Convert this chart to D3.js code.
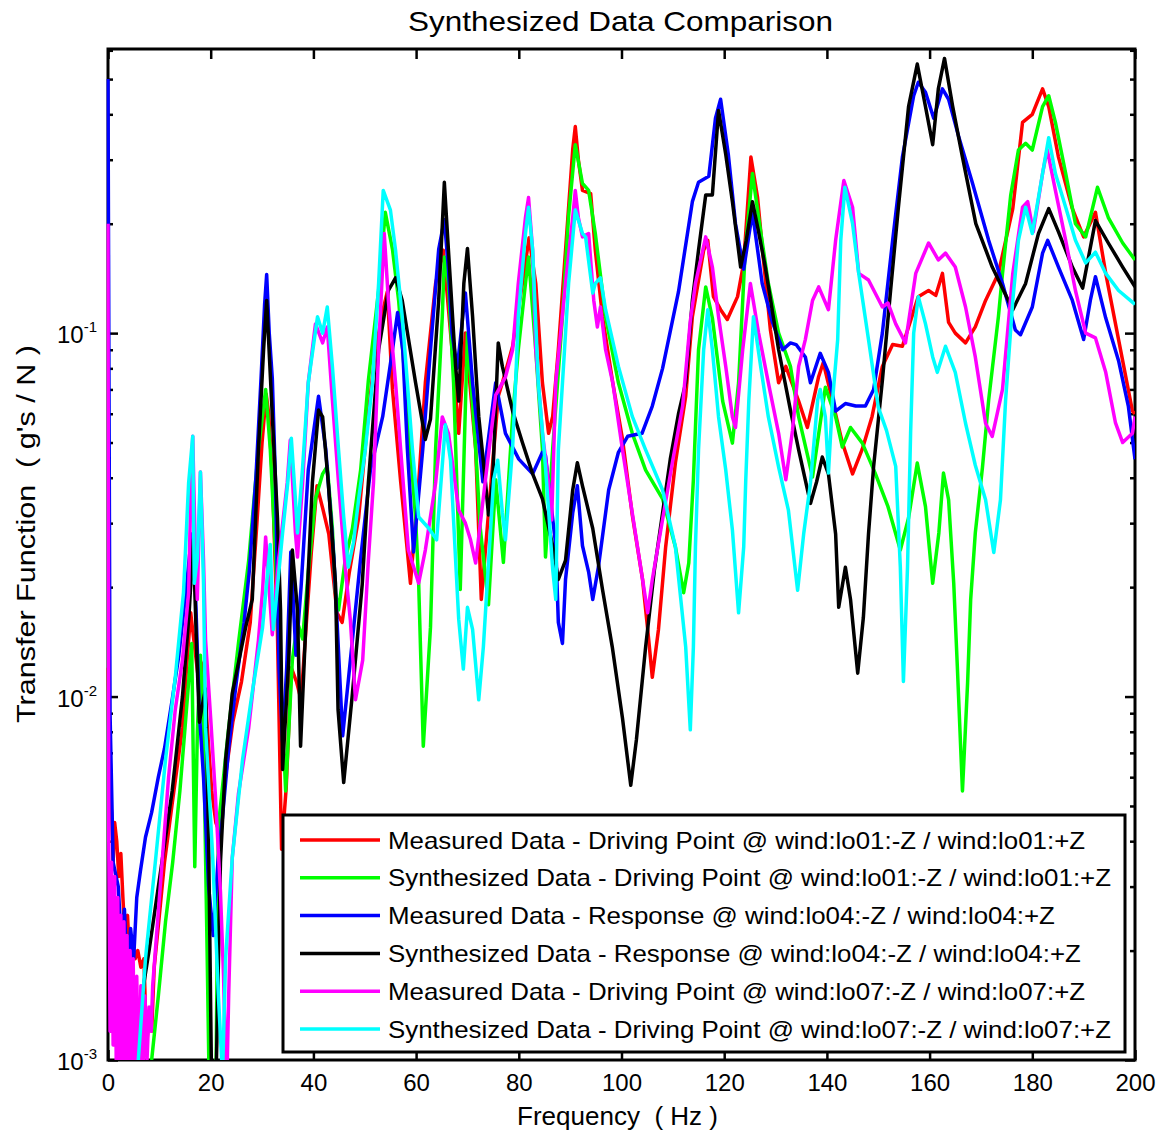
<!DOCTYPE html>
<html>
<head>
<meta charset="utf-8">
<style>
  body { margin: 0; background: #fff; }
  text { font-family: "Liberation Sans", Arial, sans-serif; fill: #000; }
</style>
</head>
<body>
<svg width="1163" height="1134"></svg>
<script src="https://d3js.org/d3.v7.min.js"></script>
<script>

// values: [frequency (Hz), transfer function (g's/N)]
var measuredLo01 = [[0,0.012],[0.3,0.0055],[0.7,0.0048],[1,0.0035],[1.3,0.0045],[1.7,0.004],[2.1,0.0032],[2.5,0.0037],[2.9,0.0028],[3.3,0.0022],[3.8,0.0025],[4.3,0.0018],[4.8,0.0021],[5.3,0.0019],[5.8,0.002],[6.4,0.0018],[7,0.0019],[7.5,0.0011],[8,0.0013],[8.5,0.0012],[9,0.0018],[10,0.0025],[11,0.0035],[12.6,0.0052],[14.5,0.0082],[15.3,0.012],[16.1,0.017],[16.8,0.014],[17.5,0.0115],[18,0.0125],[18.6,0.012],[19.4,0.008],[20.2,0.0055],[21,0.0045],[21.8,0.0042],[22.5,0.0055],[24.3,0.0085],[26,0.011],[27.7,0.016],[29,0.03],[30,0.05],[30.8,0.068],[31.3,0.06],[32,0.04],[33,0.015],[33.8,0.0038],[34.7,0.0056],[35.7,0.012],[36.7,0.011],[37.6,0.0098],[38.5,0.015],[39.6,0.025],[40.7,0.038],[41.8,0.033],[43,0.028],[44.6,0.017],[45.6,0.016],[47,0.022],[48.8,0.031],[50.7,0.06],[52.1,0.09],[53.5,0.115],[54.4,0.13],[55.4,0.07],[57,0.039],[58.9,0.0205],[60.5,0.0387],[61.8,0.073],[63.8,0.137],[65.3,0.169],[67,0.09],[68.3,0.053],[69.6,0.1],[71.6,0.048],[72.7,0.0185],[74.1,0.032],[76,0.067],[76.8,0.073],[78.8,0.092],[80.7,0.137],[82,0.183],[83.3,0.137],[84.6,0.073],[85.8,0.053],[86.6,0.059],[87.7,0.09],[89.1,0.169],[90.5,0.32],[91,0.37],[91.6,0.3],[92.4,0.247],[94,0.242],[94.9,0.169],[96.3,0.111],[98.3,0.073],[100.2,0.051],[102.1,0.0316],[104.1,0.021],[105.1,0.0153],[106,0.0113],[107.2,0.0153],[108.6,0.0258],[110.5,0.044],[112.5,0.067],[113.8,0.111],[116,0.169],[116.8,0.18],[117.9,0.126],[119.3,0.116],[120.6,0.109],[122.6,0.126],[123.8,0.156],[125.2,0.305],[126.5,0.236],[127.7,0.156],[129,0.102],[130.6,0.073],[132,0.081],[134.5,0.065],[136.2,0.055],[138.4,0.076],[139.3,0.083],[141.1,0.065],[143,0.05],[145,0.041],[146.9,0.048],[148.8,0.059],[150.8,0.081],[152.8,0.093],[154.7,0.092],[157.8,0.126],[159.8,0.131],[161.2,0.127],[162.5,0.146],[163.7,0.107],[165,0.1],[167,0.094],[168.9,0.104],[170.9,0.123],[173.4,0.146],[176.2,0.22],[178.1,0.38],[180,0.4],[182,0.47],[183.2,0.42],[185.1,0.305],[187.8,0.22],[190,0.184],[192.3,0.215],[194.3,0.146],[196.8,0.096],[199.5,0.061],[200,0.06]];

var synthLo01 = [[7.5,0.0008],[8.5,0.001],[9.8,0.0015],[11.2,0.0024],[12.6,0.0035],[14,0.0055],[15,0.0082],[16.3,0.014],[16.9,0.0034],[17.4,0.008],[18,0.013],[18.6,0.008],[19.3,0.002],[19.8,0.0007],[21,0.0008],[21.5,0.0044],[23.5,0.0082],[25.4,0.014],[27.4,0.0237],[29.3,0.048],[30.7,0.07],[31.6,0.048],[32.6,0.025],[33.6,0.0112],[34.6,0.0055],[35.9,0.0126],[36.9,0.016],[37.9,0.0144],[39,0.022],[40.4,0.035],[41.8,0.041],[42.7,0.043],[43.7,0.029],[44.3,0.0193],[44.9,0.0173],[46.2,0.0238],[47.6,0.029],[49.2,0.042],[50.7,0.074],[52.7,0.131],[54,0.215],[55.4,0.17],[56.6,0.123],[57.9,0.073],[59.9,0.031],[60.5,0.0205],[61.4,0.0073],[62.8,0.0155],[63.8,0.048],[65.1,0.111],[65.5,0.162],[66.3,0.137],[67.3,0.073],[68.6,0.0197],[70,0.1],[71.6,0.048],[72.5,0.029],[74.1,0.0179],[75.5,0.0395],[77,0.0234],[78.8,0.0588],[79.9,0.09],[81.3,0.137],[81.9,0.162],[83.3,0.09],[84.6,0.048],[85.2,0.0242],[86.6,0.048],[88.5,0.111],[89.7,0.21],[91,0.33],[92.4,0.258],[93.6,0.247],[94.9,0.188],[96.9,0.111],[99.4,0.073],[102.1,0.053],[104.7,0.042],[108,0.035],[110.5,0.0258],[112.1,0.0193],[113.1,0.0233],[114,0.0395],[115,0.09],[116.4,0.134],[117.7,0.11],[119.7,0.065],[121.6,0.0498],[122.8,0.073],[124.1,0.169],[125.5,0.275],[126.7,0.208],[128.6,0.137],[130.6,0.1],[132.9,0.081],[134.5,0.0588],[137.2,0.0402],[139.7,0.071],[141.7,0.0588],[143,0.0486],[144.6,0.055],[146.9,0.0498],[149.4,0.0412],[151.9,0.0333],[154.3,0.0253],[155.9,0.031],[157.6,0.0439],[159.2,0.0333],[160.6,0.0205],[161.8,0.0282],[162.7,0.0412],[163.7,0.0348],[164.7,0.0205],[165.4,0.0121],[166.4,0.0055],[167.4,0.0109],[168,0.0185],[168.9,0.0282],[170.3,0.0428],[171.5,0.0654],[173.4,0.111],[174.2,0.146],[175.8,0.24],[177.3,0.319],[178.7,0.333],[180,0.319],[182,0.42],[183.2,0.45],[184.5,0.38],[186.5,0.275],[188.4,0.2],[190.4,0.184],[192.7,0.252],[194.8,0.208],[197.6,0.177],[200,0.159]];

var measuredLo04 = [[0,0.5],[0.4,0.009],[1,0.0035],[2,0.003],[2.6,0.0021],[3.2,0.0026],[3.8,0.0016],[4.4,0.0023],[5,0.0019],[5.6,0.0028],[6.3,0.0033],[7.3,0.0041],[8.5,0.0048],[9.8,0.006],[11,0.0072],[12.5,0.0098],[13.8,0.013],[15.1,0.019],[16.3,0.028],[17,0.02],[17.8,0.009],[18.6,0.006],[19.6,0.003],[20.5,0.0022],[21.4,0.0035],[22.2,0.0045],[23.5,0.0072],[25,0.011],[26.5,0.016],[27.5,0.022],[28.8,0.04],[29.8,0.075],[30.5,0.12],[30.9,0.145],[31.4,0.1],[32,0.075],[32.6,0.04],[33.3,0.012],[34,0.0075],[34.8,0.012],[35.6,0.025],[36.6,0.013],[37.6,0.02],[39,0.042],[41,0.067],[42.4,0.048],[44,0.024],[45.7,0.0078],[47.2,0.0126],[49.2,0.024],[51.1,0.042],[53.5,0.059],[55.4,0.09],[56.4,0.114],[57.4,0.09],[58.3,0.048],[59.3,0.028],[59.5,0.025],[61.3,0.048],[62.8,0.09],[64.4,0.17],[65.5,0.205],[66.3,0.15],[67,0.1],[68,0.08],[69.6,0.129],[71,0.073],[73,0.039],[75.5,0.073],[77.4,0.053],[80,0.045],[82.7,0.041],[84.6,0.047],[85.2,0.046],[87.2,0.026],[87.7,0.016],[88.5,0.014],[89.1,0.021],[90.5,0.032],[91.4,0.038],[92.4,0.026],[93.6,0.022],[94.4,0.0185],[95.5,0.0227],[97.5,0.037],[99.4,0.047],[101.2,0.052],[104,0.053],[106,0.063],[108,0.08],[111.1,0.13],[113.8,0.23],[115,0.26],[117,0.27],[118.3,0.39],[119.3,0.44],[120.8,0.31],[122.2,0.2],[123.8,0.15],[125.5,0.215],[127.4,0.137],[129.4,0.107],[131.4,0.09],[132.9,0.094],[134,0.093],[135.8,0.086],[136.8,0.073],[138.7,0.088],[140.3,0.078],[141.7,0.061],[143.6,0.064],[145.6,0.063],[147.5,0.063],[149.1,0.07],[150.8,0.1],[152.8,0.18],[154.7,0.305],[156.9,0.45],[157.8,0.49],[159.2,0.46],[160.8,0.39],[162.5,0.47],[163.7,0.44],[165.6,0.35],[168.3,0.26],[171.5,0.18],[174.2,0.137],[176.7,0.102],[177.7,0.099],[180,0.118],[182,0.166],[183,0.18],[185.1,0.152],[187.8,0.123],[190,0.096],[191.3,0.123],[192.3,0.143],[194.3,0.11],[196.8,0.084],[198.7,0.063],[200,0.045]];

var synthLo04 = [[3,0.0008],[5.5,0.0012],[8,0.002],[10.5,0.0035],[12.5,0.0055],[14.5,0.01],[15.8,0.017],[16.6,0.027],[17.3,0.013],[17.8,0.0085],[18.4,0.0095],[19,0.0105],[19.6,0.004],[20.2,0.0008],[20.9,0.0007],[21.9,0.0035],[22.9,0.0067],[24.2,0.0102],[26.8,0.0155],[28.1,0.0185],[29.3,0.048],[30.3,0.09],[30.9,0.123],[32,0.059],[33,0.031],[33.6,0.0173],[34,0.0063],[35.2,0.0126],[35.9,0.0253],[36.9,0.0173],[37.5,0.0073],[38.5,0.0155],[39.8,0.0387],[41,0.0614],[41.8,0.0588],[42.9,0.0387],[44.3,0.0205],[44.8,0.0092],[45.9,0.0058],[47.6,0.0102],[49.5,0.0203],[50.7,0.0387],[52.7,0.09],[54.6,0.131],[56,0.142],[57.3,0.123],[59.9,0.073],[61.8,0.051],[62.8,0.058],[64.4,0.123],[65.5,0.26],[66.3,0.169],[67.7,0.081],[68.3,0.065],[69.3,0.137],[70,0.171],[71,0.111],[72.2,0.059],[73.5,0.039],[74.1,0.0316],[74.9,0.039],[76,0.094],[76.8,0.081],[78.8,0.061],[80.7,0.05],[82.7,0.041],[84.6,0.035],[86.6,0.026],[87.7,0.021],[89.1,0.0237],[90.5,0.037],[91.4,0.044],[92.4,0.038],[94.4,0.029],[96.3,0.0197],[98.2,0.0137],[100.2,0.0087],[101.8,0.0057],[102.9,0.0076],[104.7,0.0137],[106.4,0.0223],[108,0.032],[109.5,0.045],[111.1,0.06],[112.5,0.073],[113.8,0.123],[115,0.169],[116.4,0.24],[117.7,0.24],[118.9,0.41],[120.3,0.31],[121.6,0.23],[123.2,0.152],[124.3,0.18],[125.5,0.23],[126.7,0.19],[128,0.152],[130.6,0.09],[132.9,0.0614],[134.5,0.0477],[136.8,0.034],[138,0.039],[139.1,0.0456],[140.3,0.041],[141.7,0.028],[142.3,0.0176],[143.6,0.0227],[144.6,0.0185],[146,0.0116],[147.1,0.0165],[148.1,0.028],[149.1,0.043],[150.8,0.074],[152.4,0.131],[153.9,0.22],[155.9,0.42],[157.6,0.55],[159.2,0.42],[160.6,0.33],[161.7,0.47],[162.9,0.57],[164.5,0.42],[166.4,0.305],[169,0.2],[172.2,0.152],[176.2,0.116],[178.7,0.137],[181.2,0.188],[183.2,0.22],[185.1,0.19],[187.8,0.152],[189.8,0.133],[192.3,0.204],[194.8,0.177],[197.6,0.152],[200,0.134]];

var measuredLo07 = [[0,0.2],[0.15,0.004],[0.4,0.0012],[0.7,0.0035],[1,0.0011],[1.3,0.0032],[1.6,0.001],[1.9,0.0028],[2.2,0.0009],[2.5,0.0025],[2.8,0.001],[3.1,0.0024],[3.4,0.0009],[3.7,0.0022],[4,0.0009],[4.3,0.002],[4.6,0.0008],[4.9,0.0019],[5.2,0.0009],[5.6,0.0017],[6,0.0008],[6.4,0.0016],[6.8,0.0009],[7.2,0.0015],[7.6,0.001],[8,0.0014],[8.4,0.0012],[8.7,0.0016],[10.6,0.0036],[11.8,0.006],[13.1,0.0092],[14.5,0.0126],[15.7,0.0193],[16.1,0.035],[16.5,0.052],[17,0.0253],[17.4,0.0185],[18,0.0415],[18.6,0.0237],[19,0.0143],[20,0.0087],[20.9,0.0054],[21.9,0.0029],[22.5,0.0017],[22.9,0.001],[23.1,0.0008],[23.5,0.0015],[24.2,0.0036],[25.4,0.0054],[27.4,0.0082],[29.3,0.0143],[30.1,0.0196],[30.7,0.0275],[31.3,0.0205],[32,0.0148],[33.2,0.0237],[34.9,0.0387],[35.5,0.0508],[36.5,0.0282],[36.9,0.0242],[37.9,0.0387],[39,0.073],[40.4,0.106],[41.8,0.094],[42.7,0.104],[43.7,0.0654],[44.9,0.0387],[46.2,0.0227],[47.2,0.0162],[48.2,0.0098],[49.6,0.0126],[50.7,0.0237],[51.7,0.0387],[52.7,0.09],[53.8,0.188],[54.6,0.123],[56,0.073],[57,0.0477],[58.5,0.0253],[60.5,0.0205],[61.8,0.0253],[63.8,0.0387],[65.1,0.0588],[66.3,0.053],[68.3,0.0326],[69.6,0.03],[70.6,0.027],[71.6,0.0233],[73.5,0.0395],[75.5,0.0675],[77.4,0.0757],[78.8,0.09],[79.9,0.137],[81.3,0.208],[81.9,0.236],[82.7,0.169],[83.3,0.09],[84.6,0.053],[85.8,0.0387],[86.4,0.0306],[87.2,0.073],[89.1,0.137],[90.5,0.208],[91,0.247],[91.6,0.208],[92.4,0.184],[93.6,0.188],[94.6,0.123],[95.3,0.104],[95.9,0.118],[96.9,0.09],[98.3,0.073],[100.2,0.0477],[102.1,0.032],[104.1,0.021],[105.1,0.017],[106,0.021],[108,0.0307],[109.9,0.044],[111.9,0.063],[113.4,0.108],[114.4,0.137],[116.4,0.184],[117.7,0.152],[118.9,0.111],[120.3,0.081],[121.6,0.0588],[122.2,0.055],[123.6,0.09],[125.1,0.137],[126.7,0.1],[128.6,0.073],[130.6,0.053],[132,0.0395],[133.3,0.054],[134.5,0.081],[135.8,0.096],[137.2,0.123],[138.4,0.134],[140.3,0.116],[141.7,0.18],[143.3,0.263],[145,0.222],[146.2,0.146],[148.1,0.14],[150.8,0.118],[151.9,0.121],[153.4,0.106],[155.3,0.094],[157.3,0.146],[159.8,0.177],[161.7,0.159],[163.1,0.166],[165,0.152],[167,0.118],[168.9,0.086],[170.9,0.0565],[172.2,0.052],[174.2,0.07],[176.2,0.146],[178.1,0.222],[179.1,0.23],[180.2,0.19],[182,0.275],[182.9,0.32],[184.5,0.247],[186.5,0.18],[188.4,0.131],[190.4,0.1],[192.3,0.097],[194.3,0.078],[196.2,0.0566],[197.6,0.05],[199.5,0.053],[200,0.059]];

var synthLo07 = [[5.5,0.0008],[5.9,0.001],[7.3,0.0019],[9.3,0.0036],[11.2,0.0067],[13.1,0.0113],[14.7,0.0193],[15.7,0.0387],[16.5,0.052],[16.8,0.0205],[17.4,0.024],[18,0.0415],[18.6,0.0205],[19,0.0082],[20.4,0.0036],[21.5,0.0015],[22.3,0.0009],[22.9,0.0019],[24.2,0.0036],[26.2,0.0067],[28.1,0.0103],[30.1,0.0155],[31.3,0.0237],[31.6,0.0262],[32.2,0.0153],[34,0.0282],[35,0.0387],[35.7,0.0514],[36.5,0.0348],[36.9,0.0282],[37.9,0.0428],[39,0.073],[40.8,0.111],[41.8,0.1],[42.7,0.118],[43.7,0.081],[44.9,0.0477],[45.9,0.0312],[46.8,0.0227],[47.8,0.0265],[48.8,0.0348],[50.1,0.0477],[51.5,0.073],[52.7,0.137],[53.6,0.247],[55,0.218],[56,0.169],[57.3,0.111],[58.3,0.073],[59.3,0.0477],[60.5,0.0312],[62.5,0.029],[64,0.027],[65.7,0.056],[66.7,0.0447],[67.7,0.0237],[68.3,0.0163],[69.2,0.0119],[70,0.0176],[71,0.0153],[72.2,0.0098],[73.1,0.0137],[73.9,0.021],[75.1,0.0395],[75.9,0.0447],[76.8,0.032],[77.4,0.027],[78.8,0.0486],[79.4,0.074],[79.9,0.111],[81.3,0.188],[81.9,0.222],[82.7,0.169],[83.8,0.073],[85.2,0.0428],[85.8,0.0326],[86.6,0.0224],[87.2,0.0185],[87.7,0.0477],[89.7,0.137],[91,0.218],[92.4,0.188],[93,0.184],[94.4,0.129],[94.9,0.137],[95.9,0.142],[96.9,0.116],[99.4,0.081],[102.1,0.059],[104.7,0.0477],[108,0.037],[110.5,0.0258],[112.5,0.0137],[113.4,0.0081],[114,0.0137],[114.4,0.0258],[115,0.0477],[116,0.09],[116.8,0.116],[117.7,0.09],[118.9,0.0588],[120.3,0.042],[121.6,0.0287],[122.8,0.017],[123.8,0.0258],[124.2,0.0395],[124.8,0.0654],[125.7,0.111],[127.1,0.081],[128.6,0.0588],[130.6,0.0428],[132.5,0.0326],[134.3,0.0196],[135.5,0.0282],[136.8,0.0387],[138.2,0.0654],[138.7,0.07],[139.7,0.0588],[140.3,0.0412],[141.1,0.0654],[142.1,0.096],[142.7,0.18],[143.5,0.252],[145,0.2],[146.2,0.146],[148.1,0.096],[150,0.0626],[151.6,0.054],[153.4,0.043],[154.3,0.0227],[154.9,0.011],[155.7,0.0227],[156.3,0.053],[156.9,0.1],[157.8,0.126],[159.2,0.106],[160.6,0.086],[161.5,0.078],[163.1,0.092],[165,0.078],[167,0.0565],[168.9,0.0433],[170.9,0.0348],[172.5,0.0249],[173.8,0.0348],[174.8,0.0654],[176.2,0.123],[177.3,0.18],[178.7,0.222],[180,0.188],[182,0.275],[183.2,0.345],[184.5,0.275],[186.5,0.222],[188.4,0.18],[190.4,0.156],[192.3,0.167],[194.3,0.146],[196.8,0.131],[200,0.12]];

var seriesNames = [
  "Measured Data - Driving Point @ wind:lo01:-Z / wind:lo01:+Z",
  "Synthesized Data - Driving Point @ wind:lo01:-Z / wind:lo01:+Z",
  "Measured Data - Response @ wind:lo04:-Z / wind:lo04:+Z",
  "Synthesized Data - Response @ wind:lo04:-Z / wind:lo04:+Z",
  "Measured Data - Driving Point @ wind:lo07:-Z / wind:lo07:+Z",
  "Synthesized Data - Driving Point @ wind:lo07:-Z / wind:lo07:+Z"
];
var seriesData = [measuredLo01, synthLo01, measuredLo04, synthLo04, measuredLo07, synthLo07];
var seriesColors = ["#ff0000", "#00ff00", "#0000ff", "#000000", "#ff00ff", "#00ffff"];

var xTickValues = [0, 20, 40, 60, 80, 100, 120, 140, 160, 180, 200];
var yDecades = [0.001, 0.01, 0.1];
var yDecadeExponents = ["-3", "-2", "-1"];

var svg = d3.select("svg"),
    width = +svg.attr("width"),
    height = +svg.attr("height"),
    margin = {top: 49, right: 28, bottom: 74, left: 108};

var x = d3.scaleLinear()
    .domain([0, 200])
    .range([margin.left, width - margin.right]);

var y = d3.scaleLog()
    .domain([0.001, 0.605])
    .range([height - margin.bottom, margin.top]);

var minorTicks = y.ticks().filter(function(d) { return yDecades.indexOf(d) < 0; });

function styleAxis(g) {
  g.select(".domain").remove();
  g.selectAll(".tick line").attr("stroke", "#000").attr("stroke-width", 2.5);
  g.attr("font-family", null).attr("font-size", null);
}

// stretch text a little wider, like the exported figure
function widen(sel, factor) {
  sel.each(function() {
    var w = this.getComputedTextLength();
    d3.select(this).attr("textLength", w * factor).attr("lengthAdjust", "spacingAndGlyphs");
  });
}

// bottom + top
svg.append("g")
    .attr("transform", "translate(0," + y.range()[0] + ")")
    .call(d3.axisBottom(x).tickValues(xTickValues).tickSizeInner(-10).tickSizeOuter(0).tickPadding(14))
    .call(styleAxis)
    .selectAll("text").attr("font-size", 24);

svg.append("g")
    .attr("transform", "translate(0," + y.range()[1] + ")")
    .call(d3.axisTop(x).tickValues(xTickValues).tickSizeInner(-10).tickSizeOuter(0).tickFormat(""))
    .call(styleAxis);

// left + right, major and minor
var yLeft = svg.append("g")
    .attr("transform", "translate(" + x.range()[0] + ",0)")
    .call(d3.axisLeft(y).tickValues(yDecades).tickSizeInner(-10).tickSizeOuter(0).tickPadding(11).tickFormat(""))
    .call(styleAxis);

yLeft.selectAll(".tick text")
    .attr("font-size", 24)
    .attr("dy", "0.4em")
    .each(function(d, i) {
      var t = d3.select(this);
      t.append("tspan").text("10");
      t.append("tspan").attr("font-size", 15).attr("dy", -11).text(yDecadeExponents[i]);
    });

svg.append("g")
    .attr("transform", "translate(" + x.range()[0] + ",0)")
    .call(d3.axisLeft(y).tickValues(minorTicks).tickSizeInner(-5).tickSizeOuter(0).tickFormat(""))
    .call(styleAxis);

svg.append("g")
    .attr("transform", "translate(" + x.range()[1] + ",0)")
    .call(d3.axisRight(y).tickValues(yDecades).tickSizeInner(-10).tickSizeOuter(0).tickFormat(""))
    .call(styleAxis);

svg.append("g")
    .attr("transform", "translate(" + x.range()[1] + ",0)")
    .call(d3.axisRight(y).tickValues(minorTicks).tickSizeInner(-5).tickSizeOuter(0).tickFormat(""))
    .call(styleAxis);

svg.append("rect")
    .attr("x", x.range()[0])
    .attr("y", y.range()[1])
    .attr("width", x.range()[1] - x.range()[0])
    .attr("height", y.range()[0] - y.range()[1])
    .attr("fill", "none")
    .attr("stroke", "#000")
    .attr("stroke-width", 3);

svg.append("clipPath")
    .attr("id", "plot-clip")
  .append("rect")
    .attr("x", x.range()[0] - 1.5)
    .attr("y", y.range()[1])
    .attr("width", x.range()[1] - x.range()[0] + 1.5)
    .attr("height", y.range()[0] - y.range()[1]);

var line = d3.line()
    .x(function(d) { return x(d[0]); })
    .y(function(d) { return y(d[1]); });

svg.append("g")
    .attr("clip-path", "url(#plot-clip)")
  .selectAll("path")
  .data(seriesData)
  .enter().append("path")
    .attr("d", line)
    .attr("fill", "none")
    .attr("stroke", function(d, i) { return seriesColors[i]; })
    .attr("stroke-width", 3.5)
    .attr("stroke-linejoin", "round");

// legend
var legend = svg.append("g");

legend.append("rect")
    .attr("x", 283)
    .attr("y", 815)
    .attr("width", 842)
    .attr("height", 237)
    .attr("fill", "#fff")
    .attr("stroke", "#000")
    .attr("stroke-width", 3);

var item = legend.selectAll("g")
    .data(seriesNames)
    .enter().append("g")
      .attr("transform", function(d, i) { return "translate(0," + (840 + i * 37.8) + ")"; });

item.append("line")
    .attr("x1", 300)
    .attr("x2", 380)
    .attr("stroke", function(d, i) { return seriesColors[i]; })
    .attr("stroke-width", 3.5);

item.append("text")
    .attr("x", 388)
    .attr("dy", "0.36em")
    .attr("font-size", 24)
    .text(function(d) { return d; })
    .call(widen, 1.078);

// titles
svg.append("text")
    .attr("x", 620.5)
    .attr("y", 31)
    .attr("text-anchor", "middle")
    .attr("font-size", 28)
    .attr("textLength", 425)
    .attr("lengthAdjust", "spacingAndGlyphs")
    .text("Synthesized Data Comparison");

svg.append("text")
    .attr("x", 617.5)
    .attr("y", 1125)
    .attr("text-anchor", "middle")
    .attr("font-size", 25)
    .attr("textLength", 201)
    .attr("lengthAdjust", "spacingAndGlyphs")
    .style("white-space", "pre")
    .text("Frequency  ( Hz )");

svg.append("text")
    .attr("transform", "translate(35,534)rotate(-90)")
    .attr("text-anchor", "middle")
    .attr("font-size", 26)
    .attr("textLength", 378)
    .attr("lengthAdjust", "spacingAndGlyphs")
    .style("white-space", "pre")
    .text("Transfer Function  ( g's / N )");

</script>
</body>
</html>
